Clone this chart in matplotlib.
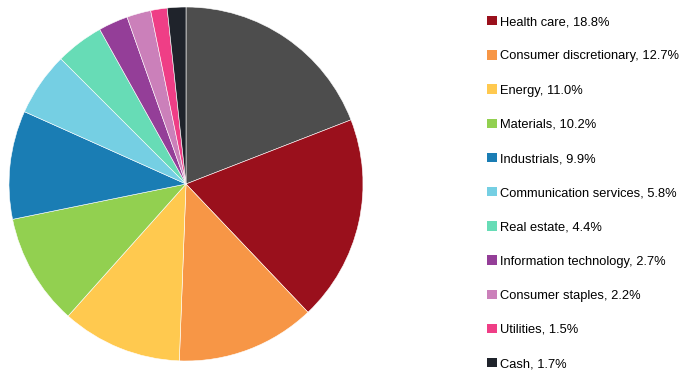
import matplotlib.pyplot as plt
from matplotlib.patches import Patch

plt.rcParams['font.family'] = ['Liberation Sans', 'DejaVu Sans']

# Sector weights (first slice has no legend entry)
sectors = ["Health care", "Consumer discretionary", "Energy", "Materials",
           "Industrials", "Communication services", "Real estate",
           "Information technology", "Consumer staples", "Utilities", "Cash"]
weights = [18.8, 12.7, 11.0, 10.2, 9.9, 5.8, 4.4, 2.7, 2.2, 1.5, 1.7]
other_weight = 19.1
colors = ["#9a101c", "#f79646", "#ffc94f", "#92d050", "#1a7db4", "#75cfe3",
          "#67dcb6", "#943e98", "#cb80ba", "#ef3e86", "#1f232b"]
other_color = "#4d4d4d"

fig = plt.figure(figsize=(6.81, 3.71), dpi=100)
ax = fig.add_axes([9 / 681, 9 / 371, 354 / 681, 356 / 371])

ax.pie([other_weight] + weights, colors=[other_color] + colors,
       startangle=90, counterclock=False,
       wedgeprops=dict(edgecolor="white", linewidth=0.4))
ax.set_aspect("equal")
ax.set_xlim(-1, 1)
ax.set_ylim(-1, 1)

handles = [Patch(facecolor=c, edgecolor="none") for c in colors]
labels = [f"{s}, {w:.1f}%" for s, w in zip(sectors, weights)]
fig.legend(handles, labels, loc="upper left", bbox_to_anchor=(487 / 681, 1 - 16 / 371),
           frameon=False, fontsize=9.3, handlelength=0.75, handleheight=0.75,
           handletextpad=0.25, labelspacing=1.70, borderaxespad=0, borderpad=0.0)

fig.savefig("out.png", dpi=100)
